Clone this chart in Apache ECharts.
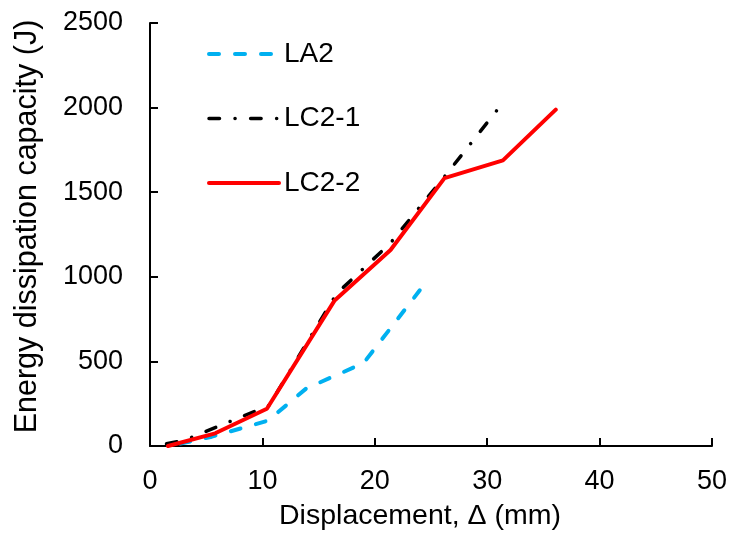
<!DOCTYPE html>
<html>
<head>
<meta charset="utf-8">
<script src="https://cdn.jsdelivr.net/npm/echarts@6/dist/echarts.min.js"></script>
<style>html,body{margin:0;padding:0;background:#fff}#c{width:730px;height:537px}</style>
</head>
<body>
<div id="c"></div>
<script>
// Data
const xTicks = [0, 10, 20, 30, 40, 50];
const yTicks = [0, 500, 1000, 1500, 2000, 2500];

const la2X = [1.7, 5.5, 10.5, 13.9, 19.0, 24.0];
const la2Y = [0, 55, 150, 340, 490, 920];

const lc21X = [0.5, 3.1, 5.3, 10.6, 16.6, 21.4, 26.3, 31.0];
const lc21Y = [0, 35, 95, 240, 900, 1200, 1600, 1995];

const lc22X = [1.6, 5.8, 10.4, 16.4, 21.4, 26.2, 31.4, 36.1];
const lc22Y = [0, 75, 220, 858, 1158, 1583, 1688, 1988];

const pairs = (xs, ys) => xs.map((x, i) => [x, ys[i]]);
const FONT = 'Liberation Sans, Arial, sans-serif';

const styles = {
  'LA2': {color: '#00B0F0', width: 4, type: [10, 16], cap: 'round'},
  'LC2-1': {color: '#000000', width: 3.5, type: [10.5, 15.5, 0.1, 15.5], cap: 'round'},
  'LC2-2': {color: '#FF0000', width: 4, type: 'solid', cap: 'round'}
};

const chart = echarts.init(document.getElementById('c'), null, {renderer: 'canvas'});
chart.setOption({
  animation: false,
  backgroundColor: '#fff',
  grid: {left: 150, right: 16, top: 23, bottom: 91, containLabel: false},
  legend: {
    orient: 'vertical',
    left: 207,
    top: 40,
    padding: 0,
    itemWidth: 70,
    itemHeight: 14,
    itemGap: 36.5,
    textStyle: {fontFamily: FONT, fontSize: 28, color: '#000'},
    data: ['LA2', 'LC2-1', 'LC2-2'].map(n => ({
      name: n,
      itemStyle: {opacity: 0},
      lineStyle: Object.assign({dashOffset: 0}, styles[n])
    }))
  },
  xAxis: {
    type: 'value',
    min: xTicks[0], max: xTicks[xTicks.length - 1], interval: 10,
    name: 'Displacement, \u0394 (mm)',
    nameLocation: 'middle',
    nameGap: 56,
    nameTextStyle: {fontFamily: FONT, fontSize: 28.5, color: '#000', padding: [0, 22, 0, 0]},
    axisLine: {show: true, lineStyle: {color: '#000', width: 2}},
    axisTick: {show: true, inside: true, length: 8, lineStyle: {color: '#000', width: 2}},
    axisLabel: {fontFamily: FONT, fontSize: 27, color: '#000', margin: 22, formatter: v => String(v)},
    splitLine: {show: false}
  },
  yAxis: {
    type: 'value',
    min: yTicks[0], max: yTicks[yTicks.length - 1], interval: 500,
    name: 'Energy dissipation capacity (J)',
    nameLocation: 'middle',
    nameGap: 107,
    nameTextStyle: {fontFamily: FONT, fontSize: 30.5, color: '#000', padding: [0, 0, 0, 16]},
    axisLine: {show: true, lineStyle: {color: '#000', width: 2}},
    axisTick: {show: true, inside: true, length: 8, lineStyle: {color: '#000', width: 2}},
    axisLabel: {fontFamily: FONT, fontSize: 27, color: '#000', margin: 27, formatter: v => String(v)},
    splitLine: {show: false}
  },
  series: [
    {
      name: 'LA2', type: 'line', symbol: 'none', data: pairs(la2X, la2Y),
      lineStyle: Object.assign({dashOffset: 14.5}, styles['LA2']), itemStyle: {color: '#00B0F0'}, z: 2
    },
    {
      name: 'LC2-1', type: 'line', symbol: 'none', data: pairs(lc21X, lc21Y),
      lineStyle: Object.assign({dashOffset: 30.5}, styles['LC2-1']), itemStyle: {color: '#000'}, z: 3
    },
    {
      name: 'LC2-2', type: 'line', symbol: 'none', data: pairs(lc22X, lc22Y),
      lineStyle: styles['LC2-2'], itemStyle: {color: '#FF0000'}, z: 4
    }
  ]
});
</script>
</body>
</html>
